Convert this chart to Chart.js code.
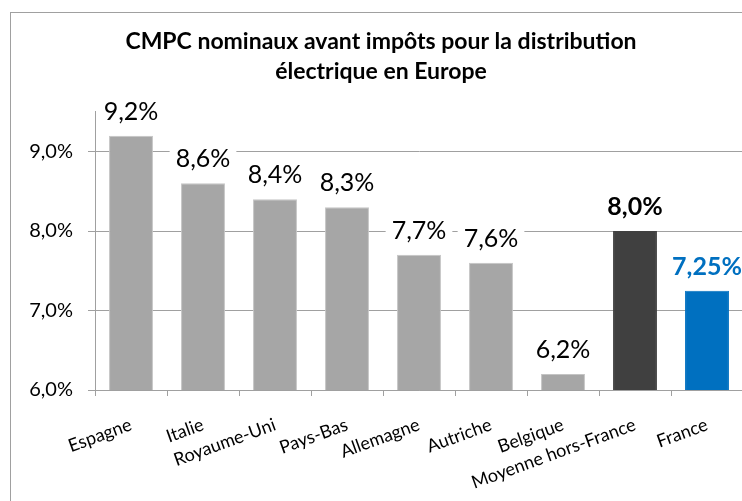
<!DOCTYPE html>
<html>
<head>
<meta charset="utf-8">
<script src="https://cdn.jsdelivr.net/npm/chart.js@4"></script>
<style>
  html, body { margin: 0; padding: 0; background: #fff; overflow: hidden; width: 742px; height: 501px; }
  #wrap { position: relative; width: 742px; height: 501px; overflow: hidden; }
  canvas { position: absolute; left: 0; top: 0; }
</style>
</head>
<body>
<div id="wrap"><canvas id="chart" width="760" height="501"></canvas></div>
<script>
const pays = ["Espagne", "Italie", "Royaume-Uni", "Pays-Bas", "Allemagne", "Autriche", "Belgique", "Moyenne hors-France", "France"];
const cmpc = [9.2, 8.6, 8.4, 8.3, 7.7, 7.6, 6.2, 8.0, 7.25];
const couleurs = ["#a6a6a6", "#a6a6a6", "#a6a6a6", "#a6a6a6", "#a6a6a6", "#a6a6a6", "#a6a6a6", "#404040", "#0070c0"];
const yTicks = [6, 7, 8, 9];
const titre = ["CMPC nominaux avant impôts pour la distribution", "électrique en Europe"];

const gris = "#a0a0a0";

function fmt(v) {
  const dec = Math.abs(v * 10 - Math.round(v * 10)) > 1e-6 ? 2 : 1;
  return v.toFixed(dec).replace(".", ",") + "%";
}

// cadre du graphique
const cadre = {
  id: "cadre",
  beforeDraw(chart) {
    const ctx = chart.ctx;
    ctx.save();
    ctx.strokeStyle = gris;
    ctx.lineWidth = 1;
    ctx.strokeRect(10.5, 12.5, 745, 560);
    ctx.restore();
  },
};

// étiquettes de valeur avec fond blanc
const etiquettes = {
  id: "etiquettes",
  afterDatasetsDraw(chart) {
    const ctx = chart.ctx;
    const meta = chart.getDatasetMeta(0);
    ctx.save();
    meta.data.forEach((bar, i) => {
      const txt = fmt(cmpc[i]);
      ctx.font = (i >= 7 ? "bold " : "") + "25px Lato";
      const w = ctx.measureText(txt).width;
      const base = bar.y - 16;
      ctx.fillStyle = "#fff";
      ctx.fillRect(bar.x - w / 2 - 6, base - 22, w + 12, 28);
      ctx.fillStyle = i === 8 ? "#0070c0" : "#000";
      ctx.textAlign = "center";
      ctx.textBaseline = "alphabetic";
      ctx.fillText(txt, bar.x, base);
    });
    ctx.restore();
  },
};

new Chart(document.getElementById("chart"), {
  type: "bar",
  data: {
    labels: pays,
    datasets: [
      {
        data: cmpc,
        backgroundColor: couleurs,
        borderColor: couleurs.map((c) => (c === "#a6a6a6" ? "#c4c4c4" : c)),
        borderWidth: 1,
        barPercentage: 0.61,
        categoryPercentage: 1,
      },
    ],
  },
  options: {
    responsive: false,
    animation: false,
    layout: { padding: { left: 19, right: 17, top: 0, bottom: 0 } },
    plugins: {
      legend: { display: false },
      tooltip: { enabled: false },
      title: {
        display: true,
        text: titre,
        color: "#000",
        font: { family: "Lato", size: 23, weight: "bold", lineHeight: 1.3 },
        padding: { top: 27, bottom: 25 },
      },
    },
    scales: {
      x: {
        grid: { drawOnChartArea: false, tickLength: 6, color: gris, offset: true },
        border: { color: gris },
        ticks: {
          color: "#000",
          font: { family: "Lato", size: 18 },
          minRotation: 20,
          maxRotation: 20,
          autoSkip: false,
          padding: 18,
        },
        afterFit: (s) => { s.height = 111; },
      },
      y: {
        min: 6,
        max: 9.5,
        grid: { color: gris, tickLength: 7 },
        border: { color: gris },
        ticks: {
          color: "#000",
          font: { family: "Lato", size: 20 },
          padding: 15,
          callback: (v) => v.toFixed(1).replace(".", ",") + "%",
        },
        afterBuildTicks: (s) => { s.ticks = yTicks.map((v) => ({ value: v })); },
        afterFit: (s) => { s.width = 76; },
      },
    },
  },
  plugins: [cadre, etiquettes],
});
</script>
</body>
</html>
